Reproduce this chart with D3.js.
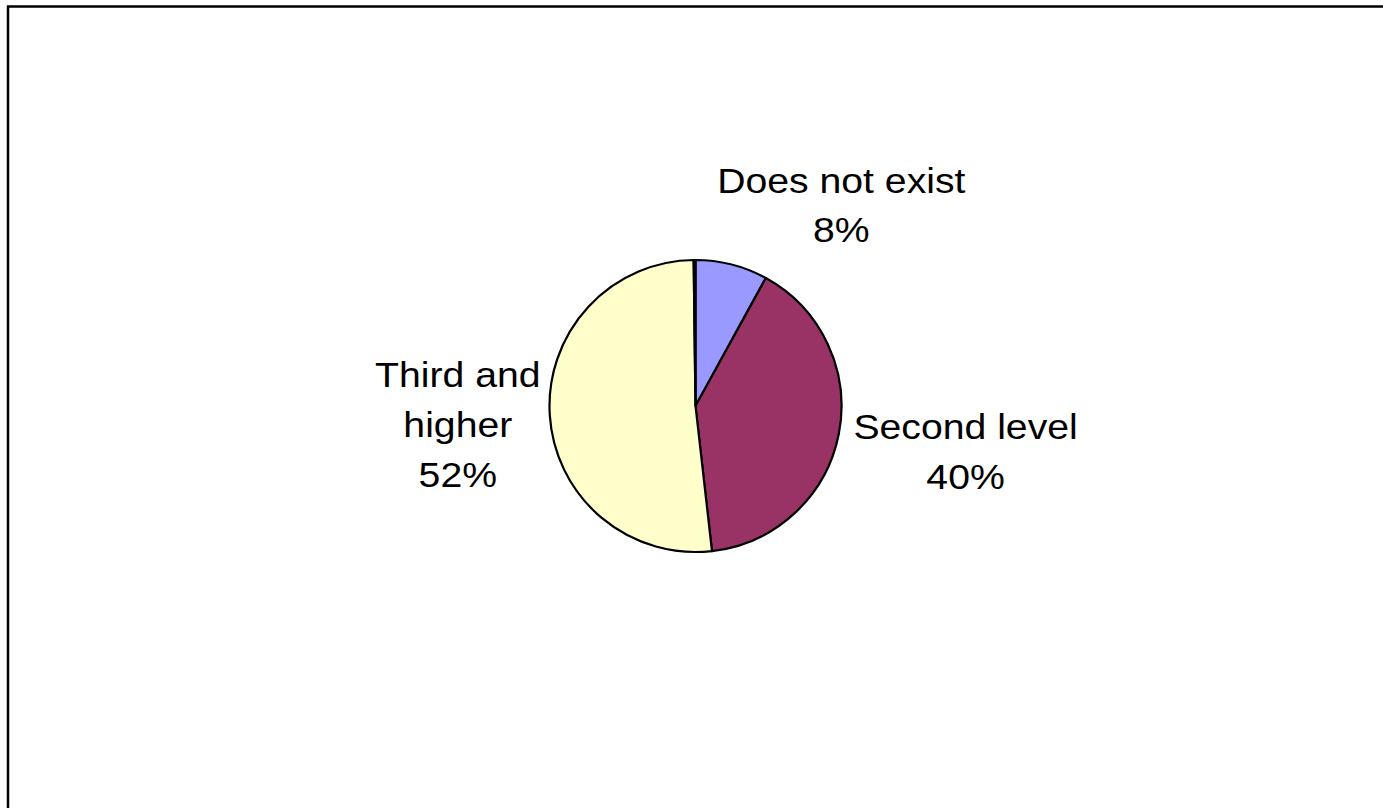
<!DOCTYPE html>
<html>
<head>
<meta charset="utf-8">
<script src="https://cdn.jsdelivr.net/npm/d3@7"></script>
<style>
    html, body { margin: 0; padding: 0; background: #fff; }
    svg { display: block; }
</style>
</head>
<body>
<div id="chart"></div>
<script>
// pie data (last slice is a sliver without a label)
var categories = ["Does not exist", "Second level", "Third and higher", ""];
var values = [8, 40.2, 51.6, 0.2];
var sliceColors = ["#9999FF", "#993366", "#FFFFCC", "#CCFFFF"];

// label lines are split where the original wraps them
var labelLines = [["Does not exist"], ["Second level"], ["Third and", "higher"], []];
// nudges of each label box from its anchor just outside the pie
var labelNudge = [[107, -50], [117, 15], [-82, 9], [0, 0]];

var width = 1383, height = 808;
var cx = 695.5, cy = 406, radius = 146;

var svg = d3.select("#chart").append("svg")
    .attr("width", width)
    .attr("height", height);

// chart area frame, runs off the right and bottom of the picture
svg.append("rect")
    .attr("x", 8)
    .attr("y", 6.5)
    .attr("width", 1400)
    .attr("height", 820)
    .attr("fill", "#fff")
    .attr("stroke", "#000")
    .attr("stroke-width", 2.5);

var pie = d3.pie()
    .sort(null)
    .value(function (d) { return d; });

var arc = d3.arc()
    .outerRadius(radius)
    .innerRadius(0);

var total = d3.sum(values);
var arcs = pie(values);

var g = svg.append("g")
    .attr("transform", "translate(" + cx + "," + cy + ")");

g.selectAll("path")
    .data(arcs)
    .enter().append("path")
    .attr("d", arc)
    .attr("fill", function (d) { return sliceColors[d.index]; })
    .attr("stroke", "#000")
    .attr("stroke-width", 2.2)
    .attr("stroke-linejoin", "round");

// labels: anchor on the mid angle, 10px past the rim
var fontSize = 35, lineH = 50;
var labels = g.selectAll(".label")
    .data(arcs.filter(function (d) { return categories[d.index] !== ""; }))
    .enter().append("g")
    .attr("class", "label")
    .attr("transform", function (d) {
        var a = (d.startAngle + d.endAngle) / 2;
        var r = radius + 10;
        var x = Math.sin(a) * r + labelNudge[d.index][0];
        var y = -Math.cos(a) * r + labelNudge[d.index][1];
        return "translate(" + x + "," + y + ") scale(1.12,1)";
    });

labels.each(function (d) {
    var lines = labelLines[d.index].concat([Math.round(values[d.index] / total * 100) + "%"]);
    var n = lines.length;
    var t = d3.select(this).append("text")
        .attr("text-anchor", "middle")
        .style("font-family", "'Liberation Sans', Arial, sans-serif")
        .style("font-size", fontSize + "px")
        .attr("fill", "#000");
    lines.forEach(function (s, i) {
        t.append("tspan")
            .attr("x", 0)
            .attr("y", (i - (n - 1) / 2) * lineH + fontSize * 0.36)
            .text(s);
    });
});
</script>
</body>
</html>
